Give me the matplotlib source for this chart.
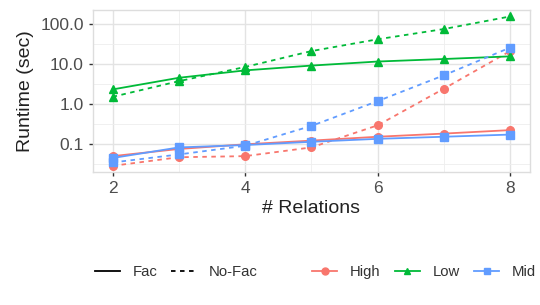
import matplotlib
matplotlib.use("Agg")
import matplotlib.pyplot as plt
from matplotlib.lines import Line2D
import numpy as np

plt.rcParams['font.family'] = ['Liberation Sans', 'DejaVu Sans']

relations = [2, 3, 4, 5, 6, 7, 8]
groups = ["High", "Low", "Mid"]
colors = {"High": "#F8766D", "Low": "#00BA38", "Mid": "#619CFF"}
markers = {"High": "o", "Low": "^", "Mid": "s"}

fac = {
    "High": [0.049, 0.074, 0.097, 0.12, 0.15, 0.18, 0.22],
    "Low": [2.3, 4.5, 6.9, 9.1, 11.5, 13.3, 15.5],
    "Mid": [0.044, 0.081, 0.093, 0.112, 0.133, 0.15, 0.17],
}
nofac = {
    "High": [0.028, 0.046, 0.049, 0.081, 0.29, 2.4, 21.0],
    "Low": [1.5, 3.7, 8.4, 21.0, 41.5, 75.0, 155.0],
    "Mid": [0.034, 0.054, 0.089, 0.28, 1.17, 5.2, 25.7],
}

y_ticks = [0.1, 1.0, 10.0, 100.0]
y_labels = ["0.1", "1.0", "10.0", "100.0"]
x_ticks = [2, 4, 6, 8]

fig = plt.figure(figsize=(5.4, 3.05), dpi=100)
ax = fig.add_axes([0.1717, 0.436, 0.8098, 0.531])

for g in groups:
    ax.plot(relations, fac[g], color=colors[g], marker=markers[g], lw=1.3,
            ms=5.5, ls='-')
    ax.plot(relations, nofac[g], color=colors[g], marker=markers[g], lw=1.3,
            ms=5.5, ls=(0, (2.5, 2.5)))

ax.set_yscale('log')
ax.set_ylim(0.0196, 224)
ax.set_xlim(1.7, 8.3)
ax.set_yticks(y_ticks)
ax.set_yticklabels(y_labels)
ax.set_yticks([10 ** v for v in [-1.5, -0.5, 0.5, 1.5]], minor=True)
ax.set_xticks(x_ticks)
ax.set_xticks([3, 5, 7], minor=True)
ax.tick_params(which='minor', length=0)
ax.tick_params(which='major', length=3, width=1, color='#333333',
               labelsize=12.5, labelcolor='#4D4D4D', pad=3.5)
ax.grid(which='major', color='#E3E3E3', lw=1.0)
ax.grid(which='minor', color='#EEEEEE', lw=0.6)
ax.set_axisbelow(True)
for s in ax.spines.values():
    s.set_color('#DDDDDD')
    s.set_linewidth(1.0)

ax.set_xlabel("# Relations", fontsize=14, color='#222222', labelpad=3)
ax.set_ylabel("Runtime (sec)", fontsize=14, color='#222222', labelpad=4.5)

lt_handles = [Line2D([], [], color='black', lw=1.3, ls='-'),
              Line2D([], [], color='black', lw=1.3, ls=(0, (2.5, 2.5)))]
leg1 = fig.legend(lt_handles, ["Fac", "No-Fac"], loc='center left',
                  bbox_to_anchor=(0.165, 0.109), ncol=2, frameon=False,
                  fontsize=10.7, handlelength=1.68, handletextpad=0.87,
                  columnspacing=0.87, borderaxespad=0, labelcolor='#333333')
col_handles = [Line2D([], [], color=colors[g], marker=markers[g], lw=1.3, ms=5)
               for g in groups]
leg2 = fig.legend(col_handles, groups, loc='center left',
                  bbox_to_anchor=(0.567, 0.109), ncol=3, frameon=False,
                  fontsize=10.7, handlelength=1.68, handletextpad=0.87,
                  columnspacing=0.95, borderaxespad=0, labelcolor='#333333')

fig.savefig("out.png", dpi=100)
